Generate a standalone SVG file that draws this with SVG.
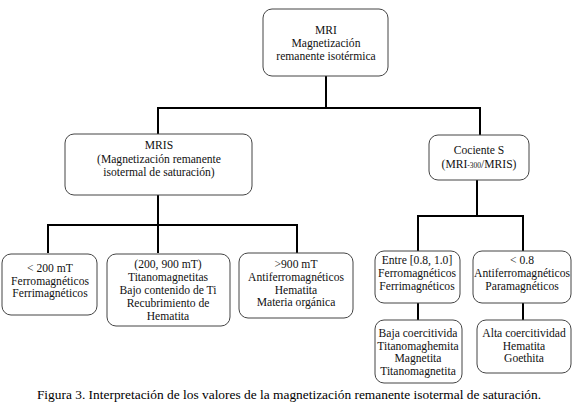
<svg xmlns="http://www.w3.org/2000/svg" width="575" height="408" viewBox="0 0 575 408">
<style>
.box{fill:#fff;stroke:#444;stroke-width:1}
.t{font-family:'Liberation Serif','Times New Roman','DejaVu Serif',serif;font-size:11.6px;fill:#111;text-anchor:middle}
.c{fill:none;stroke:#000;stroke-width:2}
.cap{font-family:'Liberation Serif','Times New Roman','DejaVu Serif',serif;font-size:13.4px;fill:#000;text-anchor:middle}
</style>
<rect width="575" height="408" fill="#fff"/>
<g id="connectors">
<path class="c" d="M326,76 V108 M158,108 H480 M158,107 V134 M480,107 V135"/>
<path class="c" d="M158,195 V225 M48,225 H297 M48,224 V253 M158,224 V253 M297,224 V253"/>
<path class="c" d="M477,180 V216 M418,216 H523 M418,215 V251 M523,215 V251"/>
<path class="c" d="M418,303 V320 M523,303 V320"/>
</g>
<g id="mri">
<rect class="box" x="263" y="9" width="125" height="67" rx="9"/>
<text class="t" x="326" y="34">MRI</text>
<text class="t" x="326" y="47">Magnetización</text>
<text class="t" x="326" y="60">remanente isotérmica</text>
</g>
<g id="mris">
<rect class="box" x="65" y="134" width="187" height="61" rx="9"/>
<text class="t" x="159" y="149">MRIS</text>
<text class="t" x="159" y="163">(Magnetización remanente</text>
<text class="t" x="159" y="176">isotermal de saturación)</text>
</g>
<g id="cociente">
<rect class="box" x="429" y="135" width="100" height="45" rx="9"/>
<text class="t" x="479" y="154">Cociente S</text>
<text class="t" x="479" y="168">(MRI<tspan font-size="7.5">-300</tspan>/MRIS)</text>
</g>
<g id="lt200">
<rect class="box" x="2" y="254" width="95" height="61" rx="9"/>
<text class="t" x="50" y="272">&lt; 200 mT</text>
<text class="t" x="50" y="285">Ferromagnéticos</text>
<text class="t" x="50" y="297">Ferrimagnéticos</text>
</g>
<g id="r200900">
<rect class="box" x="107" y="254" width="123" height="72" rx="9"/>
<text class="t" x="168" y="268">(200, 900 mT)</text>
<text class="t" x="168" y="281">Titanomagnetitas</text>
<text class="t" x="168" y="294">Bajo contenido de Ti</text>
<text class="t" x="168" y="307">Recubrimiento de</text>
<text class="t" x="168" y="320">Hematita</text>
</g>
<g id="gt900">
<rect class="box" x="239" y="253" width="114" height="65" rx="9"/>
<text class="t" x="296" y="268">&gt;900 mT</text>
<text class="t" x="296" y="281">Antiferromagnéticos</text>
<text class="t" x="296" y="294">Hematita</text>
<text class="t" x="296" y="306">Materia orgánica</text>
</g>
<g id="entre">
<rect class="box" x="375" y="251" width="85" height="52" rx="9"/>
<text class="t" x="417" y="264">Entre [0.8, 1.0]</text>
<text class="t" x="417" y="277">Ferromagnéticos</text>
<text class="t" x="417" y="290">Ferrimagnéticos</text>
</g>
<g id="lt08">
<rect class="box" x="473" y="251" width="98" height="52" rx="9"/>
<text class="t" x="522" y="264">&lt; 0.8</text>
<text class="t" x="522" y="277">Antiferromagnéticos</text>
<text class="t" x="522" y="290">Paramagnéticos</text>
</g>
<g id="baja">
<rect class="box" x="375" y="320" width="87" height="63" rx="9"/>
<text class="t" x="418" y="337">Baja coercitivida</text>
<text class="t" x="418" y="350">Titanomaghemita</text>
<text class="t" x="418" y="362">Magnetita</text>
<text class="t" x="418" y="375">Titanomagnetita</text>
</g>
<g id="alta">
<rect class="box" x="477" y="320" width="94" height="53" rx="9"/>
<text class="t" x="524" y="337">Alta coercitividad</text>
<text class="t" x="524" y="350">Hematita</text>
<text class="t" x="524" y="362">Goethita</text>
</g>
<text class="cap" x="289" y="399">Figura 3. Interpretación de los valores de la magnetización remanente isotermal de saturación.</text>
</svg>
